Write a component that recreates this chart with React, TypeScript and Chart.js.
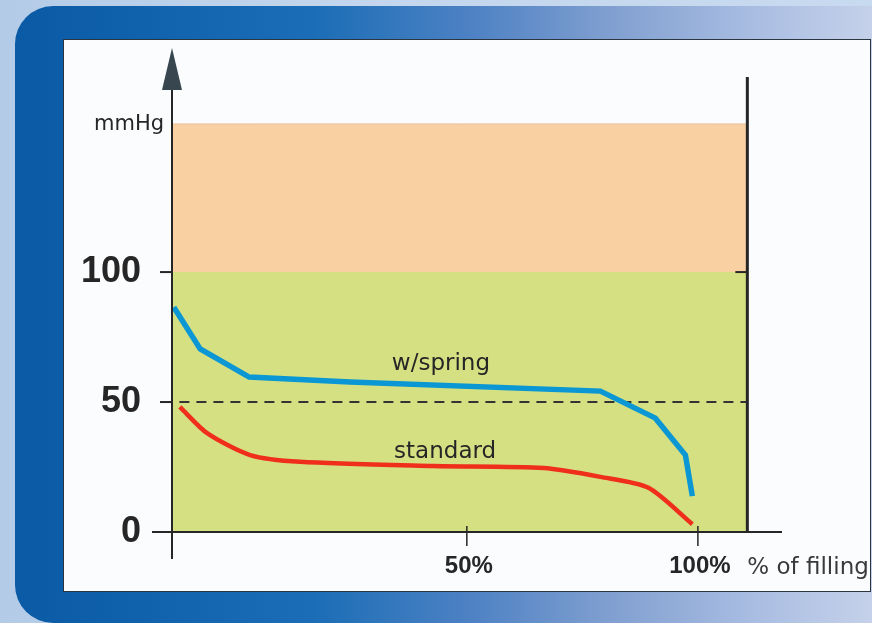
import { useEffect, useRef } from "react";
import { Chart, registerables } from "chart.js";
import type { Plugin } from "chart.js";

Chart.register(...registerables);

// x in "% of filling", y in mmHg
const X_MIN = -13.8;
const X_MAX = 118.2;
const Y_MAX = 186.2;

const Y_TICKS = [0, 50, 100];
const X_TICKS = [50, 100];
const X_TICK_LABELS = ["50%", "100%"];

const SPRING_X = [-13.4, -7.7, 2.9, 24.7, 78.9, 90.8, 97.3, 98.8];
const SPRING_Y = [86.5, 70.4, 59.6, 57.7, 54.2, 43.8, 29.6, 13.8];

const STANDARD_X = [-12.1, -6.2, 3.1, 13.9, 42.7, 66.6, 78.9, 89.3, 98.8];
const STANDARD_Y = [48.1, 38, 29.6, 27, 25.4, 24.6, 21.2, 17, 3];

const ZONE_LIMIT = 100; // green up to here
const ZONE_TOP = 157; // orange up to here
const ZONE_RIGHT = 110.7; // right wall of the zones
const WALL_TOP = 175;
const REFERENCE = 50;
const REFERENCE_START = -12.2;

const SERIES_LABELS = ["w/spring", "standard"];
const SERIES_LABEL_X = [44.4, 45.3];
const SERIES_LABEL_Y = [62.3, 28.5];

const pts = (xs: number[], ys: number[]) => xs.map((x, i) => ({ x, y: ys[i] }));

const ink = "#262626";

const axesPlugin: Plugin<"line"> = {
  id: "drawnAxes",
  afterDatasetsDraw(chart) {
    const { ctx } = chart;
    const x = chart.scales.x;
    const y = chart.scales.y;
    const x0 = x.getPixelForValue(X_MIN);
    const y0 = y.getPixelForValue(0);
    const top = y.getPixelForValue(Y_MAX);
    const right = x.getPixelForValue(X_MAX);
    const wall = x.getPixelForValue(ZONE_RIGHT);

    ctx.save();
    ctx.strokeStyle = ink;
    ctx.lineCap = "butt";

    // y axis
    ctx.lineWidth = 2;
    ctx.beginPath();
    ctx.moveTo(x0, top + 30);
    ctx.lineTo(x0, y0 + 27);
    ctx.stroke();
    // arrow head
    ctx.fillStyle = "#37464f";
    ctx.beginPath();
    ctx.moveTo(x0, top);
    ctx.lineTo(x0 + 10, top + 42);
    ctx.lineTo(x0 - 10, top + 42);
    ctx.closePath();
    ctx.fill();

    // x axis
    ctx.beginPath();
    ctx.moveTo(x0 - 20, y0);
    ctx.lineTo(right, y0);
    ctx.stroke();

    // right wall
    ctx.lineWidth = 3;
    ctx.beginPath();
    ctx.moveTo(wall, y.getPixelForValue(WALL_TOP));
    ctx.lineTo(wall, y0);
    ctx.stroke();
    ctx.lineWidth = 2;
    const yl = y.getPixelForValue(ZONE_LIMIT);
    ctx.beginPath();
    ctx.moveTo(wall - 12, yl);
    ctx.lineTo(wall, yl);
    ctx.stroke();

    // y ticks + labels
    ctx.fillStyle = ink;
    ctx.font = "bold 36px 'Liberation Sans', Arial, sans-serif";
    ctx.textAlign = "right";
    ctx.textBaseline = "middle";
    Y_TICKS.forEach((v) => {
      const py = y.getPixelForValue(v);
      if (v !== 0) {
        ctx.beginPath();
        ctx.moveTo(x0 - 12, py);
        ctx.lineTo(x0, py);
        ctx.stroke();
      }
      ctx.fillText(String(v), x0 - 31, py);
    });

    // x ticks + labels
    ctx.font = "bold 24px 'Liberation Sans', Arial, sans-serif";
    ctx.textAlign = "center";
    ctx.lineWidth = 1.5;
    X_TICKS.forEach((v, i) => {
      const px = x.getPixelForValue(v);
      ctx.beginPath();
      ctx.moveTo(px, y0 - 6);
      ctx.lineTo(px, y0 + 14);
      ctx.stroke();
      ctx.fillText(X_TICK_LABELS[i], px + 2, y0 + 34);
    });

    // titles
    ctx.fillStyle = "#3a3a3a";
    ctx.font = "23px 'DejaVu Sans', sans-serif";
    ctx.textAlign = "left";
    ctx.fillText("% of filling", wall, y0 + 36);
    ctx.fillStyle = ink;
    ctx.font = "21px 'DejaVu Sans', sans-serif";
    ctx.textAlign = "right";
    ctx.textBaseline = "alphabetic";
    ctx.fillText("mmHg", x0 - 8, y.getPixelForValue(ZONE_TOP) + 6);

    // series labels
    ctx.font = "23px 'DejaVu Sans', sans-serif";
    ctx.textAlign = "center";
    SERIES_LABELS.forEach((t, i) => {
      ctx.fillText(t, x.getPixelForValue(SERIES_LABEL_X[i]), y.getPixelForValue(SERIES_LABEL_Y[i]));
    });
    ctx.restore();
  }
};

function FillingChart() {
  const canvasRef = useRef<HTMLCanvasElement | null>(null);

  useEffect(() => {
    if (!canvasRef.current) {
      return undefined;
    }
    const chart = new Chart(canvasRef.current, {
      type: "line",
      data: {
        datasets: [
          {
            data: pts([X_MIN, ZONE_RIGHT], [ZONE_TOP, ZONE_TOP]),
            borderColor: "#e8c3a0",
            borderWidth: 1,
            backgroundColor: "#f8d0a1",
            fill: { value: ZONE_LIMIT },
            pointRadius: 0,
            order: 10
          },
          {
            data: pts([X_MIN, ZONE_RIGHT], [ZONE_LIMIT, ZONE_LIMIT]),
            borderWidth: 0,
            backgroundColor: "#d5e082",
            fill: "origin",
            pointRadius: 0,
            order: 9
          },
          {
            data: pts([REFERENCE_START, ZONE_RIGHT], [REFERENCE, REFERENCE]),
            borderColor: "#333333",
            borderWidth: 2,
            borderDash: [10, 7],
            pointRadius: 0,
            fill: false,
            order: 5
          },
          {
            data: pts(STANDARD_X, STANDARD_Y),
            borderColor: "#ef2f1b",
            borderWidth: 4.5,
            pointRadius: 0,
            fill: false,
            tension: 0.25,
            order: 1
          },
          {
            data: pts(SPRING_X, SPRING_Y),
            borderColor: "#0a97d4",
            borderWidth: 5.5,
            pointRadius: 0,
            fill: false,
            tension: 0,
            order: 0
          }
        ]
      },
      options: {
        responsive: true,
        maintainAspectRatio: false,
        animation: false,
        layout: { padding: { left: 172, right: 90, top: 48, bottom: 91 } },
        plugins: { legend: { display: false }, tooltip: { enabled: false } },
        scales: {
          x: { type: "linear", min: X_MIN, max: X_MAX, display: false },
          y: { type: "linear", min: 0, max: Y_MAX, display: false }
        }
      },
      plugins: [axesPlugin]
    });
    return () => chart.destroy();
  }, []);

  return <canvas ref={canvasRef} aria-label="mmHg vs % of filling" />;
}

export default function App() {
  return (
    <div
      style={{
        position: "fixed",
        left: 0,
        top: 0,
        width: 872,
        height: 623,
        overflow: "hidden",
        background: "linear-gradient(90deg, #b4cbe7 0%, #c3d6ed 40%, #c8daef 100%)"
      }}
    >
      <div
        style={{
          position: "absolute",
          left: 15,
          top: 6,
          width: 900,
          height: 617,
          borderRadius: 38,
          background:
            "linear-gradient(90deg, #0a5aa6 0%, #1a6db6 33%, #4e82c4 51%, #809fd0 66%, #a9bde2 82%, #cfd8ec 100%)"
        }}
      />
      <div
        style={{
          position: "absolute",
          left: 63,
          top: 39,
          width: 808,
          height: 553,
          boxSizing: "border-box",
          border: "1.5px solid #2c3640",
          background: "#fbfcfe"
        }}
      />
      <div style={{ position: "absolute", left: 0, top: 0, width: 872, height: 623 }}>
        <FillingChart />
      </div>
    </div>
  );
}
